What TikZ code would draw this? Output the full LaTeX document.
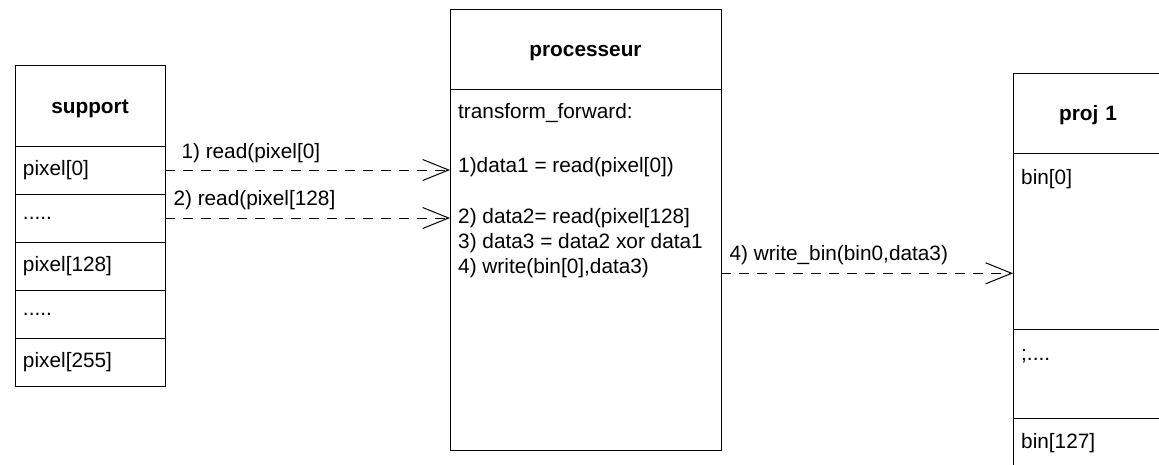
\documentclass[tikz,border=0pt]{standalone}
\usepackage{fontspec}
\setmainfont{Liberation Sans}
\usetikzlibrary{arrows.meta}
\begin{document}
\begin{tikzpicture}[x=1pt,y=-1pt,
  every node/.style={font=\fontsize{20.8}{25}\selectfont},
  cell/.style={draw=black, line width=1pt, anchor=north west, inner xsep=8pt,
               inner ysep=0pt, outer sep=0pt, align=left},
  head/.style={cell, align=center, text height=15pt, text depth=0pt,
               font=\fontsize{20.8}{25}\selectfont\bfseries},
  txt/.style={anchor=base west, inner sep=0pt},
  dep/.style={draw=black, line width=1pt, dash pattern=on 10pt off 8pt,
              -{Straight Barb[length=26pt,width=21pt]}},
  lbl/.style={anchor=base west, inner sep=0pt, at start}]
\useasboundingbox (0,0) rectangle (1159,464);
\clip (0,0) rectangle (1159,464);

% support: header and six memory cells
\node[head, text width=134pt, minimum height=81pt] (sup) at (15,65) {support};
\node[cell, text width=134pt, minimum height=48pt] (s0) at (15,146) {pixel[0]};
\node[cell, text width=134pt, minimum height=48pt] (s1) at (15,194) {.....};
\node[cell, text width=134pt, minimum height=48pt] (s2) at (15,242) {pixel[128]};
\node[cell, text width=134pt, minimum height=48pt] (s3) at (15,290) {.....};
\node[cell, text width=134pt, minimum height=48pt] (s4) at (15,338) {pixel[255]};

% processeur: header and body with its steps
\node[head, text width=255pt, minimum height=80pt] (proc) at (450,9) {processeur};
\node[cell, text width=255pt, minimum height=361pt] (pbody) at (450,89) {};
\node[txt] (t0) at (458,118) {transform\_forward:};
\node[txt] (t1) at (458,172) {1)data1 = read(pixel[0])};
\node[txt] (t2) at (458,223) {2) data2= read(pixel[128]};
\node[txt] (t3) at (458,248) {3) data3 = data2 xor data1};
\node[txt] (t4) at (458,273) {4) write(bin[0],data3)};

% proj 1: header and bins
\node[head, text width=134pt, minimum height=80pt] (proj) at (1013,73) {proj 1};
\node[cell, text width=134pt, minimum height=176pt] (p0) at (1013,153) {};
\node[cell, text width=134pt, minimum height=89pt] (p1) at (1013,329) {};
\node[cell, text width=134pt, minimum height=70pt] (p2) at (1013,418) {};
\node[txt] (b0) at (1021,184) {bin[0]};
\node[txt] (b1) at (1021,360) {;....};
\node[txt] (b2) at (1021,448) {bin[127]};

% read and write messages
\coordinate (r1) at (s0.east);
\coordinate (r2) at (s1.east);
\coordinate (w1) at (721,273.3);
\draw[dep] (r1) -- node[lbl, xshift=16pt, yshift=12pt] (l1) {1) read(pixel[0]} (r1 -| pbody.west);
\draw[dep] (r2) -- node[lbl, xshift=8pt, yshift=12.5pt] (l2) {2) read(pixel[128]} (r2 -| pbody.west);
\draw[dep] (w1) -- node[lbl, xshift=8pt, yshift=13pt] (l3) {4) write\_bin(bin0,data3)} (w1 -| p0.west);
\end{tikzpicture}
\end{document}
